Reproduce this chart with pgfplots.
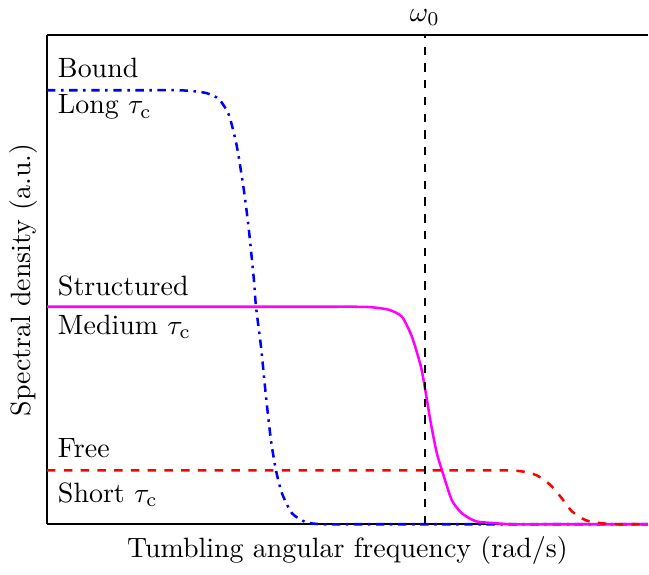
\documentclass[border=0pt]{standalone}
\usepackage{pgfplots}
\pgfplotsset{compat=1.18}
\definecolor{mag}{RGB}{255,0,255}
\definecolor{bl}{RGB}{0,0,255}
\definecolor{rd}{RGB}{255,0,0}
\begin{document}
\begin{tikzpicture}
\begin{axis}[
  scale only axis,
  width=215pt, height=175pt,
  xmin=0, xmax=601, ymin=0, ymax=490,
  axis x line=box, axis y line*=left,
  xtick=\empty, ytick=\empty,
  axis line style={line width=0.8pt},
  clip=false,
  xlabel={Tumbling angular frequency (rad/s)},
  ylabel={Spectral density (a.u.)},
  xlabel style={yshift=-1pt},
  ylabel style={yshift=0pt},
]
\addplot[bl, line width=0.9pt, dashdotted, smooth, tension=0.4] coordinates {
(0,435)(60,435)(100,435)(132,435)(147,434)(160,432)(172,426)(182,410)(190,378)(197,334)(202,294)(207,244)(209,218)(214,178)(219,128)(224,84)(229,54)(235,31)(245,11)(259,2)(275,0)(300,0)(400,0)(500,0)(601,0)};
\addplot[mag, line width=0.9pt, smooth, tension=0.4] coordinates {
(0,218)(100,218)(200,218)(280,218)(310,218)(325,217.5)(342,215)(355,208)(365,188)(374,158)(379,131)(384,101)(390,71)(397,48)(405,24)(415,11)(429,3)(449,1)(465,0)(500,0)(550,0)(601,0)};
\addplot[rd, line width=0.9pt, dashed, smooth, tension=0.4] coordinates {
(0,54)(100,54)(200,54)(300,54)(400,54)(440,54)(460,54)(475,53)(490,49)(504,39)(515,26)(525,13)(539,4)(555,1)(570,0)(585,0)(601,0)};
\addplot[black, line width=0.9pt, dashed] coordinates {(378,0)(378,490)};
\node[anchor=south] at (axis cs:378,490) {$\omega_0$};
\node[anchor=west] at (axis cs:1,457) {Bound};
\node[anchor=west] at (axis cs:1,418) {Long $\tau_\mathrm{c}$};
\node[anchor=west] at (axis cs:1,239) {Structured};
\node[anchor=west] at (axis cs:1,198) {Medium $\tau_\mathrm{c}$};
\node[anchor=west] at (axis cs:1,76) {Free};
\node[anchor=west] at (axis cs:1,30) {Short $\tau_\mathrm{c}$};
\end{axis}
\end{tikzpicture}
\end{document}
